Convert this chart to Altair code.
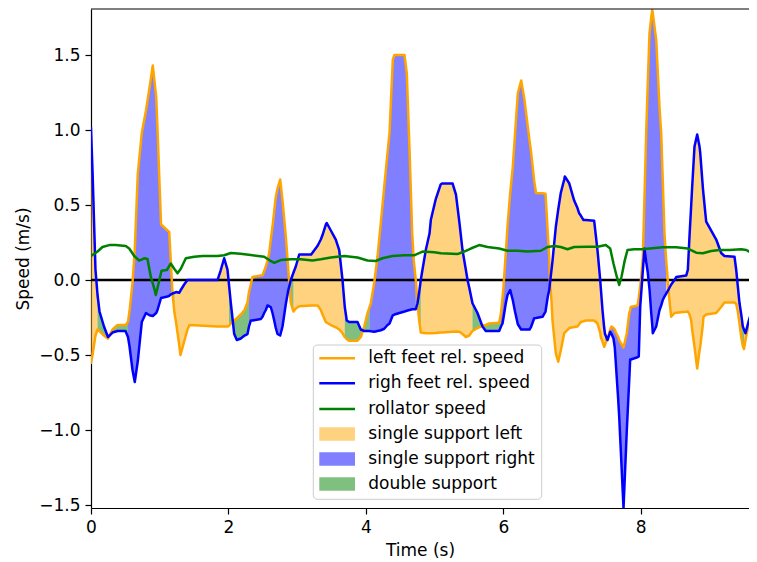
import altair as alt
import pandas as pd

# ---- shared time grid for the two feet signals (s) ----
t = [0.000, 0.022, 0.065, 0.095, 0.124, 0.189, 0.247, 0.313, 0.386, 0.502,
     0.538, 0.560, 0.604, 0.637, 0.681, 0.739, 0.800, 0.851, 0.899, 0.949,
     0.968, 1.019, 1.113, 1.138, 1.164, 1.186, 1.215, 1.237, 1.283, 1.302,
     1.356, 1.404, 1.433, 1.841, 1.884, 1.938, 1.986, 2.008, 2.034, 2.084,
     2.122, 2.180, 2.234, 2.277, 2.299, 2.325, 2.350, 2.471, 2.496, 2.520,
     2.544, 2.568, 2.593, 2.616, 2.641, 2.666, 2.689, 2.714, 2.753, 2.787,
     2.835, 2.870, 2.907, 2.947, 2.980, 3.030, 3.204, 3.300, 3.344, 3.369,
     3.417, 3.431, 3.490, 3.562, 3.612, 3.660, 3.693, 3.722, 3.757, 3.878,
     3.926, 3.976, 4.024, 4.053, 4.072, 4.121, 4.169, 4.217, 4.267, 4.315,
     4.344, 4.392, 4.416, 4.562, 4.595, 4.635, 4.674, 4.697, 4.726, 4.751,
     4.776, 4.799, 4.824, 4.872, 4.926, 4.945, 5.017, 5.086, 5.108, 5.261,
     5.311, 5.362, 5.406, 5.454, 5.479, 5.504, 5.551, 5.624, 5.697, 5.745,
     5.795, 5.940, 5.966, 5.988, 6.003, 6.036, 6.061, 6.100, 6.138, 6.170,
     6.211, 6.260, 6.308, 6.381, 6.406, 6.449, 6.476, 6.570, 6.614, 6.647,
     6.668, 6.676, 6.701, 6.716, 6.764, 6.799, 6.836, 6.886, 6.895, 6.959,
     7.031, 7.079, 7.104, 7.127, 7.167, 7.200, 7.322, 7.370, 7.410, 7.418,
     7.443, 7.468, 7.480, 7.516, 7.555, 7.574, 7.603, 7.622, 7.637, 7.672,
     7.686, 7.749, 7.797, 7.832, 7.846, 7.855, 7.953, 7.971, 7.992, 8.003,
     8.030, 8.054, 8.079, 8.102, 8.127, 8.152, 8.167, 8.175, 8.225, 8.273,
     8.297, 8.321, 8.345, 8.370, 8.408, 8.443, 8.491, 8.516, 8.661, 8.685,
     8.709, 8.734, 8.748, 8.782, 8.821, 8.855, 8.865, 8.903, 8.913, 8.952,
     9.025, 9.098, 9.170, 9.218, 9.364, 9.389, 9.412, 9.437, 9.462, 9.485,
     9.502, 9.524, 9.572, 9.607, 9.655, 9.684]

# left feet relative speed (m/s)
left_speed = [-0.55, -0.50, -0.37, -0.33, -0.34, -0.37, -0.39, -0.33, -0.30, -0.30,
              -0.28, -0.21, -0.02, 0.20, 0.71, 0.98, 1.13, 1.28, 1.43, 1.22,
              1.00, 0.37, 0.33, 0.32, 0.10, -0.09, -0.22, -0.28, -0.43, -0.50,
              -0.41, -0.33, -0.30, -0.31, -0.31, -0.31, -0.31, -0.305, -0.29, -0.27,
              -0.255, -0.23, -0.20, -0.15, -0.08, -0.03, 0.02, 0.03, 0.03, 0.06,
              0.09, 0.13, 0.18, 0.27, 0.355, 0.46, 0.555, 0.61, 0.67, 0.53,
              0.29, 0.07, -0.15, -0.21, -0.19, -0.175, -0.17, -0.17, -0.20, -0.23,
              -0.28, -0.285, -0.30, -0.315, -0.33, -0.355, -0.38, -0.395, -0.405, -0.405,
              -0.38, -0.31, -0.22, -0.18, -0.155, -0.02, 0.155, 0.38, 0.62, 0.85,
              0.98, 1.47, 1.50, 1.50, 1.38, 0.87, 0.31, 0.13, 0.00, -0.155,
              -0.27, -0.35, -0.352, -0.355, -0.355, -0.355, -0.353, -0.35, -0.35, -0.345,
              -0.343, -0.345, -0.36, -0.38, -0.375, -0.37, -0.34, -0.32, -0.305, -0.30,
              -0.29, -0.285, -0.22, -0.12, -0.045, 0.18, 0.36, 0.58, 0.755, 0.97,
              1.245, 1.33, 1.20, 0.93, 0.845, 0.66, 0.58, 0.578, 0.575, 0.31,
              0.15, 0.00, -0.14, -0.27, -0.49, -0.545, -0.47, -0.355, -0.35, -0.32,
              -0.313, -0.31, -0.295, -0.28, -0.275, -0.27, -0.27, -0.29, -0.35, -0.38,
              -0.41, -0.445, -0.43, -0.39, -0.33, -0.31, -0.32, -0.33, -0.35, -0.38,
              -0.40, -0.45, -0.355, -0.22, -0.20, -0.18, -0.17, -0.12, -0.04, 0.00,
              0.15, 0.55, 0.98, 1.31, 1.645, 1.75, 1.80, 1.78, 1.60, 1.15,
              0.98, 0.65, 0.31, 0.13, -0.09, -0.245, -0.22, -0.218, -0.212, -0.21,
              -0.23, -0.27, -0.33, -0.445, -0.59, -0.47, -0.445, -0.30, -0.245, -0.23,
              -0.225, -0.22, -0.18, -0.15, -0.15, -0.16, -0.21, -0.29, -0.38, -0.44,
              -0.46, -0.40, -0.29, -0.245, -0.20, -0.17]

# right feet relative speed (m/s)
right_speed = [1.01, 0.73, 0.07, -0.10, -0.21, -0.31, -0.38, -0.35, -0.34, -0.34,
               -0.38, -0.44, -0.60, -0.68, -0.54, -0.28, -0.22, -0.235, -0.24, -0.22,
               -0.20, -0.12, -0.11, -0.105, -0.095, -0.09, -0.085, -0.08, -0.085, -0.07,
               -0.03, 0.00, 0.00, 0.00, 0.06, 0.145, 0.07, -0.03, -0.15, -0.36,
               -0.40, -0.39, -0.37, -0.36, -0.31, -0.27, -0.27, -0.26, -0.245, -0.22,
               -0.20, -0.17, -0.175, -0.18, -0.22, -0.27, -0.32, -0.36, -0.37, -0.31,
               -0.16, -0.07, 0.00, 0.05, 0.09, 0.17, 0.17, 0.23, 0.27, 0.30,
               0.37, 0.38, 0.33, 0.27, 0.20, 0.00, -0.18, -0.27, -0.28, -0.28,
               -0.33, -0.34, -0.34, -0.34, -0.342, -0.345, -0.34, -0.335, -0.325, -0.30,
               -0.29, -0.235, -0.23, -0.21, -0.205, -0.20, -0.195, -0.195, -0.195, -0.155,
               -0.08, 0.00, 0.07, 0.20, 0.31, 0.40, 0.54, 0.635, 0.644, 0.644,
               0.57, 0.38, 0.20, 0.07, 0.00, -0.05, -0.155, -0.22, -0.31, -0.34,
               -0.34, -0.34, -0.31, -0.29, -0.25, -0.155, -0.10, -0.067, -0.135, -0.21,
               -0.295, -0.33, -0.33, -0.33, -0.31, -0.255, -0.253, -0.245, -0.21, -0.11,
               -0.067, -0.03, 0.067, 0.13, 0.355, 0.47, 0.58, 0.67, 0.69, 0.645,
               0.53, 0.48, 0.445, 0.43, 0.40, 0.40, 0.395, 0.20, 0.00, -0.05,
               -0.20, -0.32, -0.36, -0.40, -0.345, -0.36, -0.39, -0.45, -0.555, -0.80,
               -0.91, -1.52, -1.00, -0.67, -0.53, -0.53, -0.515, -0.51, -0.18, -0.11,
               0.06, 0.21, 0.12, 0.05, -0.06, -0.22, -0.30, -0.355, -0.31, -0.20,
               -0.17, -0.133, -0.11, -0.09, -0.06, -0.03, 0.00, 0.02, 0.03, 0.067,
               0.29, 0.50, 0.62, 0.89, 0.97, 0.89, 0.85, 0.62, 0.57, 0.39,
               0.33, 0.27, 0.18, 0.16, 0.155, 0.067, -0.04, -0.155, -0.23, -0.31,
               -0.33, -0.355, -0.27, -0.22, -0.233, -0.23]

# rollator speed (m/s)
t_roll = [0.000, 0.095, 0.167, 0.265, 0.357, 0.506, 0.556, 0.629, 0.701, 0.774,
          0.822, 0.870, 0.920, 0.943, 0.978, 1.026, 1.103, 1.161, 1.211, 1.259,
          1.307, 1.380, 1.502, 1.623, 1.841, 1.938, 2.034, 2.175, 2.325, 2.520,
          2.593, 2.666, 2.762, 2.907, 3.049, 3.223, 3.344, 3.490, 3.684, 3.878,
          4.024, 4.144, 4.242, 4.387, 4.558, 4.703, 4.824, 4.994, 5.090, 5.333,
          5.431, 5.527, 5.649, 5.770, 5.940, 6.061, 6.206, 6.352, 6.545, 6.643,
          6.740, 6.836, 6.934, 7.031, 7.225, 7.370, 7.491, 7.555, 7.603, 7.651,
          7.686, 7.720, 7.768, 7.807, 7.905, 8.025, 8.127, 8.321, 8.516, 8.685,
          8.807, 8.903, 9.025, 9.146, 9.291, 9.462, 9.535, 9.607, 9.684]
rollator_speed = [0.16, 0.19, 0.22, 0.233, 0.233, 0.227, 0.21, 0.16, 0.13, 0.145,
                  0.14, 0.022, -0.055, -0.10, -0.033, 0.062, 0.067, 0.11, 0.075, 0.045,
                  0.075, 0.145, 0.155, 0.16, 0.16, 0.165, 0.18, 0.175, 0.167, 0.155,
                  0.133, 0.115, 0.133, 0.138, 0.138, 0.13, 0.138, 0.15, 0.16, 0.15,
                  0.13, 0.127, 0.145, 0.16, 0.165, 0.165, 0.19, 0.185, 0.178, 0.173,
                  0.19, 0.21, 0.233, 0.22, 0.21, 0.195, 0.195, 0.19, 0.195, 0.22,
                  0.227, 0.22, 0.205, 0.22, 0.222, 0.222, 0.233, 0.21, 0.11, 0.022,
                  -0.033, 0.022, 0.133, 0.20, 0.205, 0.205, 0.21, 0.218, 0.218, 0.21,
                  0.182, 0.178, 0.193, 0.20, 0.20, 0.205, 0.20, 0.182, 0.17]

# gait phases: start time of each phase and its kind
phase_start = [0.0, 0.095, 0.538, 1.164, 1.215, 2.008, 2.299, 2.907, 2.947, 3.693,
               4.053, 4.726, 4.799, 5.551, 5.966, 6.676, 7.480, 7.516, 8.370, 9.462,
               9.502]
phase_kind = ["single support left", "double support", "single support right",
              "double support", "single support left", "double support",
              "single support right", "double support", "single support left",
              "double support", "single support right", "double support",
              "single support left", "double support", "single support right",
              "single support left", "double support", "single support right",
              "single support left", "double support", "single support left"]

legend_labels = ["left feet rel. speed", "righ feet rel. speed", "rollator speed",
                 "single support left", "single support right", "double support"]

ORANGE, BLUE, GREEN = "#FFA500", "#0000FF", "#008000"
FONT = "DejaVu Sans"
LW = 2.5

# ---- tables ----
feet = pd.DataFrame({"t": t, "left": left_speed, "right": right_speed})
roll = pd.DataFrame({"t": t_roll, "v": rollator_speed})

rows = []
phase_end = phase_start[1:] + [t[-1]]
for i, (s, e, k) in enumerate(zip(phase_start, phase_end, phase_kind)):
    for ti, lv, rv in zip(t, left_speed, right_speed):
        if s - 1e-9 <= ti <= e + 1e-9:
            rows.append({"t": ti, "left": lv, "right": rv, "seg": i, "phase": k})
fill_df = pd.DataFrame(rows)

# visible window (the figure is cropped on the right at ~9.58 s)
XDOM = [0, 9.575]
YDOM = [-1.52, 1.807]

xscale = alt.Scale(domain=XDOM, nice=False, zero=False)
xenc = alt.X("t:Q", scale=xscale,
             axis=alt.Axis(values=[0, 2, 4, 6, 8], format="d", title="Time (s)",
                           titleY=42, titleBaseline="middle", labelFlush=False))
yscale = alt.Scale(domain=YDOM, nice=False, zero=False)
yaxis = alt.Axis(values=[-1.5, -1.0, -0.5, 0.0, 0.5, 1.0, 1.5], format=".1f",
                 title="Speed (m/s)", titleX=-68, titleBaseline="middle", labelFlush=False)

fills = alt.Chart(fill_df).mark_area(opacity=0.5, interpolate="linear", clip=True).encode(
    x=xenc,
    y=alt.Y("left:Q", scale=yscale, axis=yaxis),
    y2="right:Q",
    color=alt.Color("phase:N",
                    scale=alt.Scale(domain=["single support left", "single support right", "double support"],
                                    range=[ORANGE, BLUE, GREEN]),
                    legend=None),
    detail="seg:N",
)

zero = alt.Chart(pd.DataFrame({"z": [0]})).mark_rule(color="black", strokeWidth=2.3).encode(
    y=alt.Y("z:Q", scale=yscale, axis=yaxis)
)

line_style = dict(strokeWidth=LW, clip=True, strokeJoin="round", strokeCap="square")
left_line = alt.Chart(feet).mark_line(color=ORANGE, **line_style).encode(
    x=xenc, y=alt.Y("left:Q", scale=yscale, axis=yaxis))
right_line = alt.Chart(feet).mark_line(color=BLUE, **line_style).encode(
    x=xenc, y=alt.Y("right:Q", scale=yscale, axis=yaxis))
roll_line = alt.Chart(roll).mark_line(color=GREEN, **line_style).encode(
    x=alt.X("t:Q", scale=xscale),
    y=alt.Y("v:Q", scale=yscale, axis=yaxis))

# top spine
top = alt.Chart(pd.DataFrame({"a": [0]})).mark_rule(color="black", strokeWidth=1.2).encode(
    y=alt.value(0))

# ---- legend (drawn in pixel space of the plot area) ----
row_y = [349.3, 374.3, 400.0, 425.0, 450.0, 475.0]
leg = pd.DataFrame({
    "label": legend_labels,
    "color": [ORANGE, BLUE, GREEN, ORANGE, BLUE, GREEN],
    "kind": ["line", "line", "line", "patch", "patch", "patch"],
    "py": row_y,
})
leg["py0"] = leg["py"] - 6.7
leg["py1"] = leg["py"] + 6.7

box = alt.Chart(pd.DataFrame({"a": [0]})).mark_rect(
    fill="white", fillOpacity=0.8, stroke="#cccccc", strokeWidth=1, cornerRadius=4
).encode(x=alt.value(222.3), x2=alt.value(450.7), y=alt.value(336), y2=alt.value(490.3))

leg_lines = alt.Chart(leg).transform_filter(alt.datum.kind == "line").mark_rule(strokeWidth=LW).encode(
    x=alt.value(228.3), x2=alt.value(264), y=alt.Y("py:Q", scale=None, axis=None),
    color=alt.Color("color:N", scale=None))
leg_patches = alt.Chart(leg).transform_filter(alt.datum.kind == "patch").mark_rect(opacity=0.5).encode(
    x=alt.value(228.3), x2=alt.value(264),
    y=alt.Y("py0:Q", scale=None, axis=None), y2="py1:Q",
    color=alt.Color("color:N", scale=None))
leg_text = alt.Chart(leg).mark_text(align="left", baseline="middle", fontSize=17, font=FONT,
                                    color="black").encode(
    x=alt.value(277.3), y=alt.Y("py:Q", scale=None, axis=None), text="label:N")

chart = alt.layer(fills, zero, left_line, right_line, roll_line, top,
                  box, leg_lines, leg_patches, leg_text).properties(
    width=658, height=499,
    padding={"left": 83, "top": 1, "right": 0, "bottom": 52},
    autosize=alt.AutoSizeParams(type="none"),
).configure_view(stroke=None).configure_axis(
    labelFont=FONT, labelFontSize=17, labelColor="black",
    titleFont=FONT, titleFontSize=17, titleFontWeight="normal", titleColor="black",
    tickColor="black", tickSize=6, tickWidth=1.2, labelPadding=5,
    domain=True, domainColor="black", domainWidth=1.2, grid=False,
)

chart.save("out.html", embed_options={"renderer": "svg", "actions": False})
